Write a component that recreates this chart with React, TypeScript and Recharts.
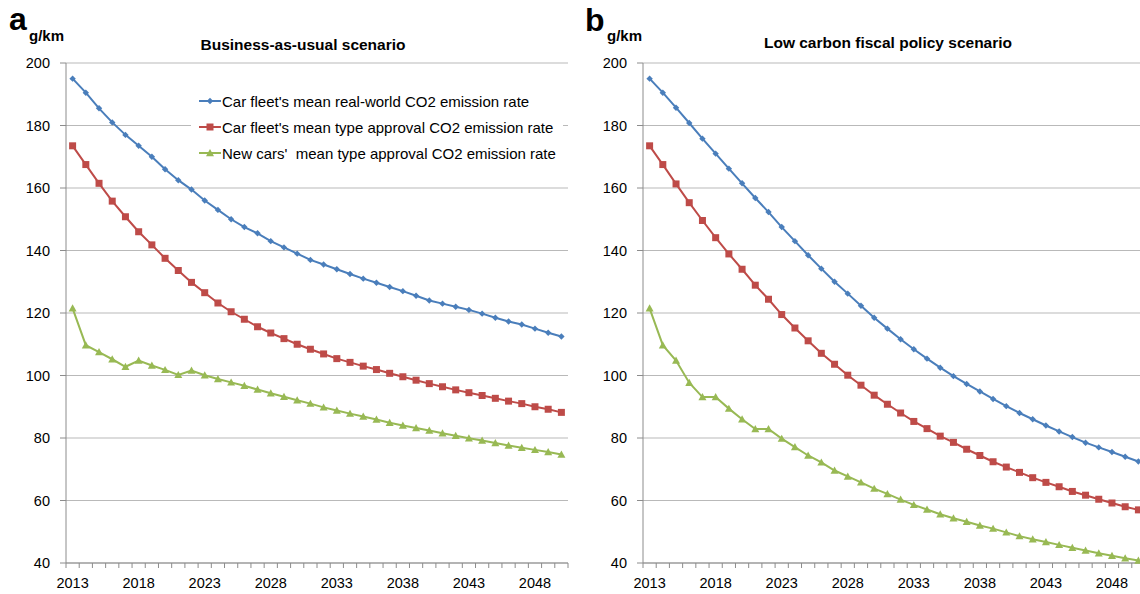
import React from 'react';
import { LineChart, Line, XAxis, YAxis, CartesianGrid, Legend } from 'recharts';

const YEARS = [
  2013, 2014, 2015, 2016, 2017, 2018, 2019, 2020, 2021, 2022,
  2023, 2024, 2025, 2026, 2027, 2028, 2029, 2030, 2031, 2032,
  2033, 2034, 2035, 2036, 2037, 2038, 2039, 2040, 2041, 2042,
  2043, 2044, 2045, 2046, 2047, 2048, 2049, 2050,
];

// a: business-as-usual
const BAU_REAL = [
  195, 190.5, 185.5, 181, 177, 173.5, 170, 166, 162.5, 159.5,
  156, 153, 150, 147.5, 145.5, 143, 141, 139, 137, 135.5,
  134, 132.5, 131, 129.7, 128.3, 127, 125.5, 124, 123, 122,
  121, 119.8, 118.5, 117.3, 116.3, 115, 113.7, 112.5,
];
const BAU_FLEET_TA = [
  173.5, 167.5, 161.5, 155.8, 150.8, 146, 141.8, 137.5, 133.6, 129.8,
  126.5, 123.2, 120.4, 118, 115.6, 113.6, 111.8, 110, 108.4, 106.9,
  105.4, 104.2, 103, 101.9, 100.7, 99.6, 98.5, 97.4, 96.4, 95.4,
  94.5, 93.6, 92.7, 91.8, 91, 90, 89.2, 88.2,
];
const BAU_NEW_TA = [
  121.5, 109.7, 107.5, 105.2, 102.8, 104.8, 103.2, 101.8, 100.2, 101.6,
  100.1, 98.9, 97.8, 96.7, 95.5, 94.3, 93.2, 92.1, 91, 89.8,
  88.8, 87.8, 86.9, 85.9, 84.9, 84, 83.2, 82.4, 81.5, 80.7,
  79.9, 79.2, 78.4, 77.6, 76.9, 76.2, 75.5, 74.7,
];

// b: low carbon fiscal policy
const LCF_REAL = [
  195, 190.5, 185.7, 180.8, 175.8, 171, 166.2, 161.5, 156.8, 152.3,
  147.5, 143, 138.5, 134.2, 130, 126.2, 122.3, 118.5, 115, 111.6,
  108.4, 105.4, 102.5, 99.8, 97.3, 94.9, 92.5, 90.2, 88, 86,
  84, 82.1, 80.3, 78.5, 77, 75.5, 74, 72.5,
];
const LCF_FLEET_TA = [
  173.5, 167.5, 161.3, 155.3, 149.6, 144.1, 138.9, 134, 128.9, 124.4,
  119.5, 115.2, 111.1, 107.1, 103.6, 100.1, 96.9, 93.7, 90.8, 88,
  85.3, 83, 80.6, 78.6, 76.4, 74.4, 72.4, 70.7, 69, 67.3,
  65.8, 64.4, 62.9, 61.7, 60.4, 59.2, 58, 57,
];
const LCF_NEW_TA = [
  121.5, 109.7, 104.8, 97.7, 93.1, 93.1, 89.4, 86, 82.9, 82.9,
  79.8, 77.1, 74.4, 72.2, 69.6, 67.7, 65.8, 63.8, 62.1, 60.3,
  58.6, 57.1, 55.6, 54.3, 53.2, 52, 51, 49.8, 48.6, 47.6,
  46.7, 45.8, 44.9, 44, 43.1, 42.3, 41.5, 40.8,
];

const SERIES_NAMES = [
  "Car fleet's mean real-world CO2 emission rate",
  "Car fleet's mean type approval CO2 emission rate",
  "New cars'  mean type approval CO2 emission rate",
];
const COLORS = ['#4a7ebb', '#be4b48', '#98b954'];

const Y_TICKS = [40, 60, 80, 100, 120, 140, 160, 180, 200];
const X_LABELS = [2013, 2018, 2023, 2028, 2033, 2038, 2043, 2048];
// tick marks sit between the years, like in Excel
const X_BOUNDS = [
  2012.5, 2013.5, 2014.5, 2015.5, 2016.5, 2017.5, 2018.5, 2019.5, 2020.5, 2021.5,
  2022.5, 2023.5, 2024.5, 2025.5, 2026.5, 2027.5, 2028.5, 2029.5, 2030.5, 2031.5,
  2032.5, 2033.5, 2034.5, 2035.5, 2036.5, 2037.5, 2038.5, 2039.5, 2040.5, 2041.5,
  2042.5, 2043.5, 2044.5, 2045.5, 2046.5, 2047.5, 2048.5, 2049.5, 2050.5,
];

const FONT = '"Liberation Sans", Arial, sans-serif';

const buildData = (real: number[], fleet: number[], newCars: number[]) =>
  YEARS.map((year, i) => ({ year, real: real[i], fleet: fleet[i], newCars: newCars[i] }));

const bauData = buildData(BAU_REAL, BAU_FLEET_TA, BAU_NEW_TA);
const lcfData = buildData(LCF_REAL, LCF_FLEET_TA, LCF_NEW_TA);

const diamondPath = (cx: number, cy: number, r: number) =>
  `M${cx},${cy - r}L${cx + r},${cy}L${cx},${cy + r}L${cx - r},${cy}Z`;
const squarePath = (cx: number, cy: number, r: number) =>
  `M${cx - r},${cy - r}H${cx + r}V${cy + r}H${cx - r}Z`;
const trianglePath = (cx: number, cy: number, r: number) =>
  `M${cx},${cy - r}L${cx + r},${cy + r * 0.8}L${cx - r},${cy + r * 0.8}Z`;

const MARKERS = [
  (cx: number, cy: number) => diamondPath(cx, cy, 3.2),
  (cx: number, cy: number) => squarePath(cx, cy, 3.5),
  (cx: number, cy: number) => trianglePath(cx, cy, 4),
];

const makeDot = (idx: number) => (props: any) => {
  const { cx, cy, index } = props;
  if (cx == null || cy == null) return <g key={`e-${idx}-${index}`} />;
  return <path key={`d-${idx}-${index}`} d={MARKERS[idx](cx, cy)} fill={COLORS[idx]} />;
};

const EmptyTick = () => <g />;

const LegendBox = () => (
  <div style={{ background: '#fff', padding: '2px 0 2px 8px', fontFamily: FONT, fontSize: 15, color: '#000' }}>
    {SERIES_NAMES.map((name, i) => (
      <div key={name} style={{ display: 'flex', alignItems: 'center', height: 26, whiteSpace: 'pre' }}>
        <svg width={22} height={12} style={{ marginRight: 1 }}>
          <line x1={0} y1={6} x2={22} y2={6} stroke={COLORS[i]} strokeWidth={2} />
          <path d={MARKERS[i](11, 6)} fill={COLORS[i]} />
        </svg>
        <span>{name}</span>
      </div>
    ))}
  </div>
);

interface PanelProps {
  data: any[];
  left: number;
  showLegend?: boolean;
}

const Panel: React.FC<PanelProps> = ({ data, left, showLegend }) => (
  <div style={{ position: 'absolute', left, top: 0 }}>
    <LineChart width={580} height={594} data={data} margin={{ top: 63, right: 12, bottom: 0, left: 10 }}>
      <CartesianGrid vertical={false} stroke="#b9b9b9" strokeWidth={1} />
      <XAxis
        xAxisId="b"
        dataKey="year"
        type="number"
        domain={[2012.5, 2050.5]}
        allowDataOverflow
        ticks={X_BOUNDS}
        interval={0}
        tick={EmptyTick}
        tickSize={5}
        height={5}
        stroke="#8c8c8c"
      />
      <XAxis
        xAxisId="l"
        dataKey="year"
        type="number"
        domain={[2012.5, 2050.5]}
        allowDataOverflow
        ticks={X_LABELS}
        interval={0}
        axisLine={false}
        tickLine={false}
        tickSize={0}
        tickMargin={10}
        height={26}
        tick={{ fill: '#000', fontSize: 14.5, fontFamily: FONT }}
      />
      <YAxis
        domain={[40, 200]}
        ticks={Y_TICKS}
        interval={0}
        width={56}
        tickSize={6}
        tickMargin={10}
        stroke="#8c8c8c"
        tick={{ fill: '#000', fontSize: 14.5, fontFamily: FONT }}
      />
      {showLegend && (
        <Legend
          layout="vertical"
          align="center"
          verticalAlign="middle"
          content={<LegendBox />}
          wrapperStyle={{ position: 'absolute', left: 191, top: 86, width: 372 }}
        />
      )}
      <Line xAxisId="b" dataKey="real" name={SERIES_NAMES[0]} stroke={COLORS[0]} strokeWidth={2} dot={makeDot(0)} isAnimationActive={false} />
      <Line xAxisId="b" dataKey="fleet" name={SERIES_NAMES[1]} stroke={COLORS[1]} strokeWidth={2} dot={makeDot(1)} isAnimationActive={false} />
      <Line xAxisId="b" dataKey="newCars" name={SERIES_NAMES[2]} stroke={COLORS[2]} strokeWidth={2} dot={makeDot(2)} isAnimationActive={false} />
    </LineChart>
  </div>
);

const App: React.FC = () => (
  <div style={{ position: 'absolute', left: 0, top: 0, width: 1140, height: 594, overflow: 'hidden', background: '#fff' }}>
    <Panel data={bauData} left={0} showLegend />
    <Panel data={lcfData} left={577} />
    <svg width={1140} height={594} style={{ position: 'absolute', left: 0, top: 0, pointerEvents: 'none' }}>
      <g fontFamily={FONT} fontWeight="bold" fill="#000">
        <text x={9} y={30} fontSize={32}>a</text>
        <text x={29} y={41} fontSize={15}>g/km</text>
        <text x={303} y={50} fontSize={15.5} textAnchor="middle">Business-as-usual scenario</text>
        <text x={585} y={31} fontSize={32}>b</text>
        <text x={607} y={41} fontSize={15}>g/km</text>
        <text x={888} y={48} fontSize={15.5} textAnchor="middle">Low carbon fiscal policy scenario</text>
      </g>
    </svg>
  </div>
);

export default App;
